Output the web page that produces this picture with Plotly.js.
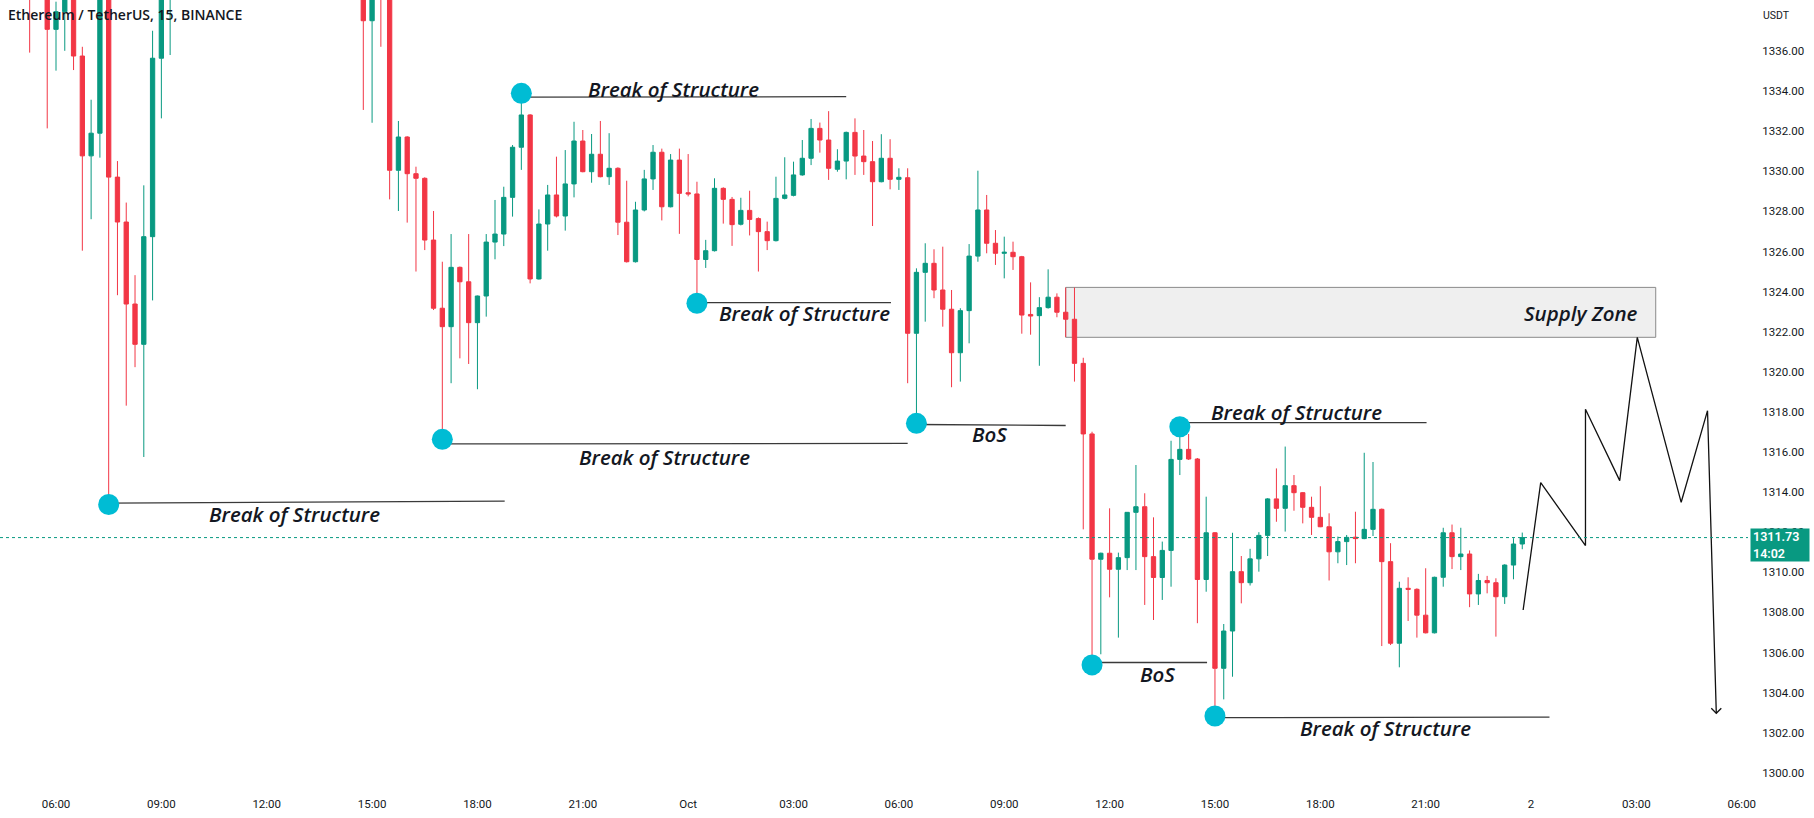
<!DOCTYPE html>
<html>
<head>
<meta charset="utf-8">
<script src="https://cdn.plot.ly/plotly-3.0.1.min.js"></script>
<style>
html,body{margin:0;padding:0;background:#ffffff;}
#chart{width:1814px;height:818px;}
</style>
</head>
<body>
<div id="chart"></div>
<script>
// ---- candle data (15 min bars, ETH/USDT) : index 0 = 2022-09-30 06:00 ----
const firstIndex = -6;
const barMinutes = 15;
const baseTime = Date.UTC(2022, 8, 30, 6, 0);

const openP = [
 1342.4, 1342.9, 1342.1, 1341.0, 1339.2, 1339.9, 1337.08, 1337.96, 1339.4, 1335.75,
 1330.77, 1331.9, 1340.2, 1329.71, 1327.47, 1323.38, 1321.37, 1326.74, 1335.64, 1339.8,
 1341.6, 1343.2, 1344.3, 1342.6, 1345.2, 1346.8, 1346.1, 1348.4, 1347.9, 1346.5,
 1345.3, 1346.2, 1344.0, 1342.9, 1344.1, 1342.3, 1341.5, 1342.8, 1341.2, 1341.9,
 1340.9, 1341.3, 1337.51, 1340.3, 1339.2, 1330.05, 1331.71, 1329.88, 1329.65, 1326.57,
 1323.17, 1322.25, 1325.21, 1324.49, 1322.45, 1323.78, 1326.47, 1326.87, 1328.7, 1331.2,
 1332.81, 1324.63, 1327.37, 1328.82, 1327.77, 1329.37, 1331.51, 1329.98, 1330.85, 1329.73,
 1330.15, 1327.46, 1325.49, 1328.07, 1329.62, 1330.95, 1328.23, 1330.56, 1328.93, 1328.87,
 1325.6, 1326.04, 1329.15, 1328.6, 1327.36, 1328.05, 1327.64, 1326.99, 1326.54, 1328.65,
 1328.8, 1329.82, 1330.65, 1332.14, 1331.56, 1330.1, 1330.51, 1331.94, 1330.76, 1330.48,
 1329.48, 1330.65, 1329.6, 1329.68, 1321.92, 1324.96, 1325.41, 1324.08, 1323.12, 1320.95,
 1323.05, 1325.77, 1328.07, 1326.41, 1325.91, 1325.96, 1325.74, 1322.86, 1322.8, 1323.2,
 1323.72, 1322.97, 1322.62, 1320.42, 1316.9, 1310.65, 1310.95, 1310.15, 1310.73, 1312.99,
 1313.27, 1310.78, 1309.74, 1311.09, 1315.63, 1316.13, 1315.65, 1309.64, 1311.97, 1305.21,
 1307.07, 1310.03, 1309.48, 1310.67, 1311.84, 1313.66, 1313.19, 1314.32, 1313.97, 1313.24,
 1312.74, 1312.27, 1311.02, 1311.53, 1311.75, 1311.68, 1312.14, 1313.14, 1310.53, 1306.46,
 1309.2, 1309.15, 1307.86, 1306.98, 1309.75, 1311.97, 1310.78, 1310.91, 1308.92, 1309.59,
 1309.48, 1308.78, 1310.36, 1311.41
];
const highP = [
 1343.5, 1344.0, 1342.8, 1341.5, 1340.6, 1340.2, 1338.46, 1340.0, 1339.8, 1336.21,
 1333.57, 1341.0, 1340.6, 1330.51, 1328.44, 1324.82, 1329.3, 1337.01, 1341.0, 1342.5,
 1343.8, 1345.0, 1344.9, 1345.7, 1347.4, 1348.3, 1349.0, 1350.2, 1348.8, 1347.6,
 1346.9, 1347.0, 1345.1, 1344.6, 1344.8, 1343.2, 1343.4, 1343.5, 1342.4, 1342.6,
 1342.0, 1341.9, 1340.9, 1340.8, 1339.6, 1332.51, 1331.75, 1330.23, 1329.7, 1328.02,
 1325.49, 1326.87, 1325.25, 1326.87, 1323.8, 1326.87, 1328.57, 1329.23, 1331.31, 1333.89,
 1332.85, 1328.1, 1329.32, 1330.73, 1331.06, 1332.47, 1332.06, 1331.86, 1332.51, 1331.9,
 1330.2, 1329.53, 1328.48, 1330.07, 1331.31, 1331.13, 1330.86, 1331.13, 1330.86, 1329.48,
 1326.58, 1329.65, 1329.2, 1328.72, 1328.68, 1329.03, 1327.7, 1327.49, 1329.73, 1330.7,
 1330.48, 1331.56, 1332.61, 1332.43, 1333.0, 1331.1, 1331.98, 1332.64, 1332.06, 1331.51,
 1331.85, 1331.6, 1330.15, 1330.15, 1325.16, 1326.41, 1326.11, 1326.24, 1324.08, 1323.17,
 1326.37, 1330.03, 1328.82, 1327.07, 1326.74, 1326.49, 1325.78, 1324.46, 1323.72, 1325.11,
 1323.91, 1324.2, 1324.2, 1320.7, 1317.01, 1310.98, 1313.19, 1310.98, 1313.0, 1315.35,
 1313.94, 1312.74, 1311.53, 1316.56, 1317.26, 1316.9, 1315.7, 1313.77, 1312.0, 1307.42,
 1311.97, 1310.81, 1311.17, 1312.0, 1313.7, 1315.18, 1316.27, 1314.85, 1314.0, 1313.77,
 1314.29, 1312.94, 1311.78, 1311.86, 1313.02, 1315.96, 1315.5, 1313.18, 1311.45, 1309.53,
 1309.75, 1309.2, 1310.2, 1309.78, 1312.22, 1312.38, 1312.22, 1311.09, 1309.92, 1309.82,
 1309.7, 1310.4, 1311.7, 1311.98
];
const lowP = [
 1341.6, 1341.8, 1340.2, 1335.92, 1338.8, 1332.14, 1335.02, 1336.01, 1335.05, 1326.04,
 1327.61, 1330.68, 1313.47, 1323.82, 1318.31, 1320.23, 1315.75, 1323.56, 1332.64, 1335.8,
 1340.9, 1342.4, 1342.0, 1342.1, 1344.6, 1345.5, 1345.7, 1347.3, 1345.9, 1344.8,
 1344.1, 1343.5, 1342.2, 1342.3, 1341.7, 1340.8, 1341.0, 1340.6, 1339.9, 1340.3,
 1340.1, 1333.06, 1332.42, 1336.21, 1328.6, 1328.02, 1327.44, 1325.0, 1326.07, 1323.08,
 1316.63, 1319.43, 1320.67, 1320.39, 1319.13, 1322.75, 1325.61, 1326.27, 1327.74, 1330.07,
 1324.41, 1324.6, 1326.04, 1327.7, 1327.04, 1328.7, 1329.95, 1329.43, 1329.7, 1329.32,
 1326.82, 1325.45, 1325.45, 1328.0, 1329.07, 1327.55, 1328.2, 1326.88, 1328.75, 1323.42,
 1325.18, 1326.0, 1327.39, 1326.28, 1327.3, 1326.8, 1325.0, 1326.07, 1326.5, 1328.6,
 1328.75, 1329.78, 1330.31, 1330.93, 1329.57, 1329.98, 1329.6, 1329.82, 1329.82, 1327.27,
 1329.45, 1329.1, 1329.07, 1319.43, 1317.43, 1322.5, 1323.67, 1322.25, 1319.23, 1319.51,
 1321.42, 1325.49, 1325.91, 1325.33, 1324.66, 1325.08, 1321.9, 1321.85, 1320.3, 1323.15,
 1322.72, 1321.73, 1319.51, 1312.14, 1305.38, 1305.91, 1308.75, 1306.74, 1310.11, 1310.11,
 1308.37, 1307.62, 1308.62, 1309.28, 1314.85, 1315.6, 1307.46, 1309.03, 1302.83, 1303.66,
 1304.79, 1308.45, 1309.34, 1310.03, 1310.81, 1312.52, 1312.03, 1313.07, 1312.44, 1311.86,
 1312.25, 1309.59, 1310.45, 1310.36, 1310.45, 1311.65, 1311.81, 1306.32, 1306.37, 1305.26,
 1307.57, 1306.74, 1306.95, 1306.95, 1309.28, 1310.16, 1310.11, 1308.26, 1308.37, 1308.95,
 1306.79, 1308.42, 1309.65, 1311.15
];
const closeP = [
 1342.9, 1342.1, 1341.0, 1339.2, 1339.9, 1337.08, 1337.96, 1339.4, 1335.75, 1330.77,
 1331.9, 1340.2, 1329.71, 1327.47, 1323.38, 1321.37, 1326.74, 1335.64, 1339.8, 1341.6,
 1343.2, 1344.3, 1342.6, 1345.2, 1346.8, 1346.1, 1348.4, 1347.9, 1346.5, 1345.3,
 1346.2, 1344.0, 1342.9, 1344.1, 1342.3, 1341.5, 1342.8, 1341.2, 1341.9, 1340.9,
 1341.3, 1337.51, 1340.3, 1339.2, 1330.05, 1331.71, 1329.88, 1329.65, 1326.57, 1323.17,
 1322.25, 1325.21, 1324.49, 1322.45, 1323.78, 1326.47, 1326.87, 1328.7, 1331.2, 1332.81,
 1324.63, 1327.37, 1328.82, 1327.77, 1329.37, 1331.51, 1329.98, 1330.85, 1329.73, 1330.15,
 1327.46, 1325.49, 1328.07, 1329.62, 1330.95, 1328.23, 1330.56, 1328.9, 1328.87, 1325.6,
 1326.04, 1329.15, 1328.6, 1327.34, 1328.05, 1327.6, 1326.99, 1326.54, 1328.65, 1328.82,
 1329.82, 1330.65, 1332.14, 1331.56, 1330.15, 1330.51, 1331.94, 1330.76, 1330.48, 1329.48,
 1330.65, 1329.6, 1329.7, 1321.92, 1324.96, 1325.41, 1324.08, 1323.12, 1320.95, 1323.05,
 1325.77, 1328.07, 1326.41, 1325.91, 1325.96, 1325.74, 1322.83, 1322.78, 1323.2, 1323.72,
 1322.97, 1322.62, 1320.42, 1316.9, 1310.65, 1310.95, 1310.15, 1310.73, 1312.99, 1313.27,
 1310.78, 1309.74, 1311.09, 1315.63, 1316.13, 1315.65, 1309.64, 1311.97, 1305.21, 1307.07,
 1310.03, 1309.48, 1310.67, 1311.84, 1313.66, 1313.19, 1314.32, 1313.97, 1313.24, 1312.74,
 1312.27, 1311.02, 1311.53, 1311.74, 1311.68, 1312.14, 1313.14, 1310.53, 1306.46, 1309.2,
 1309.15, 1307.86, 1306.98, 1309.75, 1311.97, 1310.78, 1310.91, 1308.92, 1309.59, 1309.48,
 1308.78, 1310.36, 1311.41, 1311.73
];

// ---- axes ----
const tickIndex  = [0, 12, 24, 36, 48, 60, 72, 84, 96, 108, 120, 132, 144, 156, 168, 180, 192];
const tickLabels = ['06:00','09:00','12:00','15:00','18:00','21:00','Oct','03:00','06:00','09:00','12:00','15:00','18:00','21:00','2','03:00','06:00'];
const priceTicks = [1300,1302,1304,1306,1308,1310,1312,1314,1316,1318,1320,1322,1324,1326,1328,1330,1332,1334,1336];
const lastPrice = 1311.73;
const countdown = '14:02';

// ---- drawings (bar index, price) ----
const bosStartIdx   = [6, 44, 53, 73, 98, 118, 128, 132];
const bosStartPrice = [1313.45, 1316.4, 1333.7, 1323.45, 1317.37, 1305.5, 1317.46, 1302.75];
const bosEndIdx     = [51.1, 97.0, 90.0, 95.1, 115.0, 131.1, 156.1, 170.1];
const bosEndPrice   = [1313.55, 1316.43, 1333.72, 1323.45, 1317.32, 1305.5, 1317.46, 1302.78];
const pivotIdx      = [6, 44, 53, 73, 98, 118, 128, 132];
const pivotPrice    = [1313.38, 1316.63, 1333.89, 1323.42, 1317.43, 1305.38, 1317.26, 1302.83];
const labelText     = ['Break of Structure','Break of Structure','Break of Structure','Break of Structure','BoS','BoS','Break of Structure','Break of Structure'];
const labelIdx      = [27.2, 69.25, 70.3, 85.3, 106.3, 125.4, 141.3, 151.4];
const labelPrice    = [1312.89, 1315.73, 1334.09, 1322.95, 1316.9, 1304.91, 1317.98, 1302.22];
const zoneIdx       = [115.0, 182.2];
const zonePrice     = [1321.72, 1324.21];
const zoneLabel     = 'Supply Zone';
const zoneLabelIdx  = 180.4;
const zoneLabelPrice= 1322.95;
const pathIdx   = [167.1, 169.1, 174.2, 174.2, 178.1, 180.1, 185.1, 188.1, 189.1];
const pathPrice = [1308.12, 1314.47, 1311.33, 1318.13, 1314.57, 1321.72, 1313.49, 1318.06, 1302.97];

function timeAt(n) {
  const d = new Date(baseTime + n * barMinutes * 60000);
  return d.toISOString().slice(0, 23).replace('T', ' ');
}
const times = openP.map((_, i) => timeAt(firstIndex + i));

const GREEN = '#089981', RED = '#f23645', CYAN = '#00bcd4', INK = '#131722';

// BoS lines as one trace with gaps
const bosX = [], bosY = [];
bosStartIdx.forEach((s, i) => {
  bosX.push(timeAt(s), timeAt(bosEndIdx[i]), null);
  bosY.push(bosStartPrice[i], bosEndPrice[i], null);
});

// arrow head at end of projection path
const endI = pathIdx[pathIdx.length - 1], endP = pathPrice[pathPrice.length - 1];
const headX = [timeAt(endI - 0.57), timeAt(endI), timeAt(endI + 0.57)];
const headY = [endP + 0.25, endP, endP + 0.25];

const traces = [
  {
    type: 'candlestick', x: times, open: openP, high: highP, low: lowP, close: closeP,
    increasing: { line: { color: GREEN, width: 1 }, fillcolor: GREEN },
    decreasing: { line: { color: RED, width: 1 }, fillcolor: RED },
    whiskerwidth: 0, hoverinfo: 'skip', showlegend: false
  },
  {
    type: 'scatter', mode: 'lines', x: bosX, y: bosY, connectgaps: false,
    line: { color: '#3a3a3a', width: 1.3 }, hoverinfo: 'skip', showlegend: false
  },
  {
    type: 'scatter', mode: 'lines', x: pathIdx.map(timeAt), y: pathPrice,
    line: { color: '#111111', width: 1.3 }, hoverinfo: 'skip', showlegend: false
  },
  {
    type: 'scatter', mode: 'lines', x: headX, y: headY,
    line: { color: '#111111', width: 1.3 }, hoverinfo: 'skip', showlegend: false
  },
  {
    type: 'scatter', mode: 'markers', x: pivotIdx.map(timeAt), y: pivotPrice,
    marker: { color: CYAN, size: 21, line: { width: 0 } }, hoverinfo: 'skip', showlegend: false
  }
];

const textFont = { family: 'Open Sans, sans-serif', size: 20.5, color: INK, style: 'italic', weight: 600 };

const annotations = labelText.map((t, i) => ({
  x: timeAt(labelIdx[i]), y: labelPrice[i], xref: 'x', yref: 'y', text: t,
  showarrow: false, xanchor: 'center', yanchor: 'middle', font: textFont
}));
annotations.push({
  x: timeAt(zoneLabelIdx), y: zoneLabelPrice, xref: 'x', yref: 'y', text: zoneLabel,
  showarrow: false, xanchor: 'right', yanchor: 'middle', font: textFont
});
annotations.push({
  x: 0, y: 1, xref: 'paper', yref: 'paper', xanchor: 'left', yanchor: 'top',
  xshift: 6, yshift: -3, showarrow: false, text: 'Ethereum / TetherUS, 15, BINANCE',
  font: { family: 'Open Sans, sans-serif', size: 14, color: INK, weight: 600 }
});
annotations.push({
  x: 1, y: 1, xref: 'paper', yref: 'paper', xanchor: 'left', yanchor: 'top',
  xshift: 13, yshift: -7, showarrow: false, text: 'USDT',
  font: { family: 'Roboto, sans-serif', size: 10.5, color: INK }
});
annotations.push({
  x: 1, y: lastPrice, xref: 'paper', yref: 'y', xanchor: 'left', yanchor: 'middle',
  xshift: 2, yshift: -7, showarrow: false, text: lastPrice.toFixed(2) + '<br>' + countdown,
  align: 'left', bgcolor: GREEN, borderpad: 2, width: 54, height: 28,
  font: { family: 'Roboto, sans-serif', size: 12.5, color: '#ffffff', weight: 600 }
});

const shapes = [
  {
    type: 'rect', xref: 'x', yref: 'y', layer: 'below',
    x0: timeAt(zoneIdx[0]), x1: timeAt(zoneIdx[1]), y0: zonePrice[0], y1: zonePrice[1],
    fillcolor: '#efefef', line: { color: '#8a8a8a', width: 1 }
  },
  {
    type: 'line', xref: 'paper', yref: 'y', x0: 0, x1: 1, y0: lastPrice, y1: lastPrice,
    line: { color: GREEN, width: 1, dash: 'dot' }
  }
];

const plotW = 1814 - 66;
const pxPerBar = 8.78, x0px = 56;
const xStart = timeAt(-x0px / pxPerBar);
const xEnd = timeAt((plotW - x0px) / pxPerBar);

const layout = {
  width: 1814, height: 818,
  margin: { l: 0, r: 66, t: 0, b: 30 },
  paper_bgcolor: '#ffffff', plot_bgcolor: '#ffffff',
  showlegend: false, hovermode: false, dragmode: false,
  xaxis: {
    type: 'date', range: [xStart, xEnd], rangeslider: { visible: false },
    tickmode: 'array', tickvals: tickIndex.map(timeAt), ticktext: tickLabels,
    showgrid: false, zeroline: false, showline: false,
    ticks: 'outside', ticklen: 5, tickcolor: 'rgba(0,0,0,0)',
    tickfont: { family: 'Roboto, sans-serif', size: 11.5, color: INK }
  },
  yaxis: {
    side: 'right', range: [1299.24, 1338.544],
    tickmode: 'array', tickvals: priceTicks, ticktext: priceTicks.map(v => v.toFixed(2)),
    showgrid: false, zeroline: false, showline: false,
    ticks: 'outside', ticklen: 11, tickcolor: 'rgba(0,0,0,0)',
    tickfont: { family: 'Roboto, sans-serif', size: 11.5, color: INK }
  },
  shapes: shapes,
  annotations: annotations
};

Plotly.newPlot('chart', traces, layout, { staticPlot: true, displayModeBar: false });
</script>
</body>
</html>
